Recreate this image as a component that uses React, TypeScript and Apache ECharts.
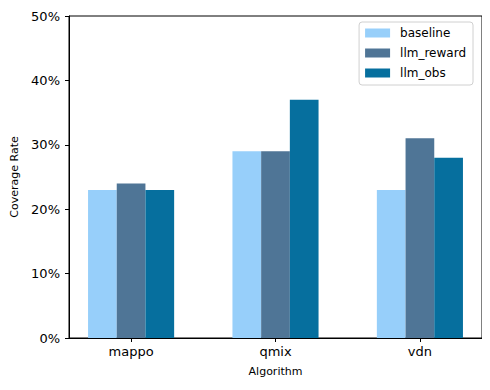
import React, { useEffect, useRef } from "react";
import * as echarts from "echarts";

const categories = ["mappo", "qmix", "vdn"];
const seriesNames = ["baseline", "llm_reward", "llm_obs"];
const baseline = [23, 29, 23];
const llmReward = [24, 29, 31];
const llmObs = [23, 37, 28];
const yTicks = [0, 10, 20, 30, 40, 50];
const colors = ["#97cffa", "#4f7596", "#066f9e"];

export default function App() {
  const ref = useRef<HTMLDivElement>(null);
  useEffect(() => {
    if (!ref.current) return;
    const chart = echarts.init(ref.current, undefined, { renderer: "svg" });
    const values = [baseline, llmReward, llmObs];
    const font = "DejaVu Sans";
    chart.setOption({
      animation: false,
      textStyle: { fontFamily: font },
      grid: {
        left: 69,
        right: 8,
        top: 16,
        bottom: 52,
        show: true,
        borderColor: "#000",
        borderWidth: 1,
        backgroundColor: "transparent",
      },
      legend: {
        orient: "vertical",
        right: 17,
        top: 22,
        data: seriesNames,
        itemWidth: 25,
        itemHeight: 9,
        itemGap: 8,
        borderColor: "#d0d0d0",
        borderWidth: 1,
        borderRadius: 3,
        padding: [5, 7, 6, 6],
        textStyle: { fontFamily: font, fontSize: 12, color: "#000", padding: [0, 0, 0, 5] },
        icon: "rect",
      },
      xAxis: {
        type: "value",
        min: -0.43,
        max: 2.43,
        splitLine: { show: false },
        axisLine: { show: true, onZero: false, lineStyle: { color: "#000" } },
        axisTick: {
          show: true,
          customValues: [0, 1, 2],
          length: 4,
          lineStyle: { color: "#000" },
        },
        axisLabel: {
          customValues: [0, 1, 2],
          formatter: (v: number) => categories[Math.round(v)] ?? "",
          fontSize: 13,
          color: "#000",
          margin: 7,
          fontFamily: font,
        },
        name: "Algorithm",
        nameLocation: "middle",
        nameGap: 28,
        nameTextStyle: { fontSize: 11, color: "#000", fontFamily: font },
      },
      yAxis: {
        type: "value",
        min: 0,
        max: 50,
        interval: 10,
        splitLine: { show: false },
        axisLine: { show: true, onZero: false, lineStyle: { color: "#000" } },
        axisTick: { show: true, length: 4, lineStyle: { color: "#000" } },
        axisLabel: {
          formatter: (v: number) => (yTicks.includes(v) ? `${v}%` : ""),
          fontSize: 13,
          color: "#000",
          margin: 9,
          fontFamily: font,
        },
        name: "Coverage Rate",
        nameLocation: "middle",
        nameGap: 48,
        nameTextStyle: { fontSize: 11, color: "#000", fontFamily: font },
      },
      series: seriesNames.map((name, s) => ({
        name,
        type: "bar",
        barWidth: 28.7,
        barGap: "0%",
        itemStyle: { color: colors[s] },
        data: categories.map((_, i) => [i, values[s][i]]),
      })),
    });
    return () => chart.dispose();
  }, []);
  return <div ref={ref} style={{ width: 490, height: 390, marginLeft: -8, marginTop: -8 }} />;
}
